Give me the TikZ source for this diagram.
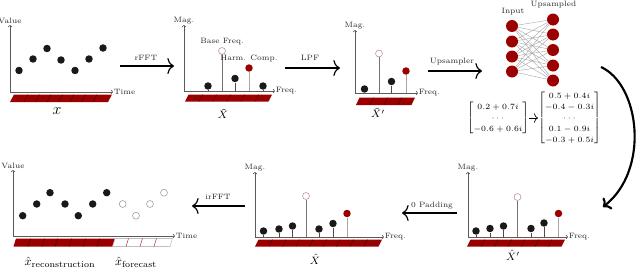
\documentclass[tikz,border=0pt]{standalone}
\usepackage{amsmath}
\usetikzlibrary{arrows.meta}
\definecolor{bred}{RGB}{155,0,0}
\definecolor{dotblk}{RGB}{25,25,25}
\definecolor{axgray}{RGB}{90,90,90}
\definecolor{hollowc}{RGB}{190,150,150}
\definecolor{hollowg}{RGB}{160,160,160}
\begin{document}
\begin{tikzpicture}[x=0.75pt,y=-0.75pt,
  axis/.style={draw=axgray, line width=0.5pt, -{To[length=1.6pt,width=3pt]}},
  lbl/.style={font=\fontsize{5.8}{6.5}\selectfont, inner sep=0.5pt, text=black!85},
  zlbl/.style={font=\fontsize{4.6}{5}\selectfont, inner sep=0, text=black!80},
  mlbl/.style={inner sep=0, font=\fontsize{8}{9}\selectfont},
  bdot/.style={circle, fill=dotblk, minimum size=5.6pt, inner sep=0},
  rdot/.style={circle, fill=bred, minimum size=5.6pt, inner sep=0},
  hdot/.style={circle, draw=hollowc, fill=white, line width=0.45pt, minimum size=5.2pt, inner sep=0},
  gdot/.style={circle, draw=hollowg, fill=white, line width=0.45pt, minimum size=5.2pt, inner sep=0},
  stemd/.style={draw=black!70, line width=0.55pt},
  stemm/.style={draw=black!55, line width=0.55pt},
  steml/.style={draw=black!35, line width=0.55pt},
  bigarrow/.style={line width=0.9pt, -{Computer Modern Rightarrow[length=5pt,width=12pt]}},
  nnode/.style={circle, fill=bred, minimum size=9pt, inner sep=0},
  link/.style={draw=black!40, line width=0.25pt},
  divl/.style={draw=black!60!bred, line width=0.3pt},
]
\useasboundingbox (0,0) rectangle (640,268);

% ---------- Panel 1: x ----------
\coordinate (o1) at (10,92);
\coordinate (t1) at (10,25);
\coordinate (x1) at (113,92);
\draw[axis] (o1) -- (t1);
\draw[axis] (o1) -- (x1);
\node[lbl, anchor=south] (v1) at (t1) {Value};
\node[lbl, anchor=west] (tm1) at (x1) {Time};
\fill[bred] (10,102) -- (14,94.5) -- (112,94.5) -- (108,102) -- cycle;
\foreach \d in {24,35.5,...,100} \draw[divl] (\d,102) -- (\d+4,94.5);
\foreach \i/\x/\y in {1/19/70.5,2/33/59,3/47/48.5,4/61/60,5/75/70.5,6/89/59,7/103/48}
  \node[bdot] (a\i) at (\x,\y) {};
\node[mlbl, font=\fontsize{13}{14}\selectfont] (xlab) at (57,111) {$x$};

% ---------- arrow rFFT ----------
\coordinate (r1s) at (120,66); \coordinate (r1e) at (174,66);
\draw[bigarrow] (r1s) -- (r1e);
\node[lbl] (rfft) at (146,58) {rFFT};

% ---------- Panel 2: X tilde ----------
\coordinate (o2) at (184,91);
\coordinate (t2) at (184,25);
\coordinate (x2) at (275,91);
\draw[axis] (o2) -- (t2);
\draw[axis] (o2) -- (x2);
\node[lbl, anchor=south] (mg2) at (t2) {Mag.};
\node[lbl, anchor=west] (fq2) at (x2) {Freq.};
\fill[bred] (185,101.5) -- (188.5,94.5) -- (272,94.5) -- (268.5,101.5) -- cycle;
\foreach \d in {199,213,227,241,255} \draw[divl] (\d,101.5) -- (\d+3.5,94.5);
\node[zlbl] (z2) at (194,98) {0};
\node[bdot] (b1) at (208,86) {};
\node[hdot] (b2) at (222,51) {};
\node[bdot] (b3) at (235,78.5) {};
\node[rdot] (b4) at (249,68) {};
\node[bdot] (b5) at (263,86) {};
\draw[stemd] (b1.south) -- (b1 |- o2);
\draw[stemm] (b2.south) -- (b2 |- o2);
\draw[stemd] (b3.south) -- (b3 |- o2);
\draw[steml] (b4.south) -- (b4 |- o2);
\draw[stemd] (b5.south) -- (b5 |- o2);
\node[lbl] (bf) at (222,42) {Base Freq.};
\node[lbl] (hc) at (249,59) {Harm. Comp.};
\node[mlbl] (xt) at (223,114) {$\tilde{X}$};

% ---------- arrow LPF ----------
\coordinate (r2s) at (285,68); \coordinate (r2e) at (340,68);
\draw[bigarrow] (r2s) -- (r2e);
\node[lbl] (lpf) at (310,58) {LPF};

% ---------- Panel 3: X tilde prime ----------
\coordinate (o3) at (355,93);
\coordinate (t3) at (355,30);
\coordinate (x3) at (418,93);
\draw[axis] (o3) -- (t3);
\draw[axis] (o3) -- (x3);
\node[lbl, anchor=south] (mg3) at (t3) {Mag.};
\node[lbl, anchor=west] (fq3) at (x3) {Freq.};
\fill[bred] (356,105) -- (359.5,97.5) -- (415,97.5) -- (411.5,105) -- cycle;
\foreach \d in {370,384,398} \draw[divl] (\d,105) -- (\d+3.5,97.5);
\node[bdot] (c1) at (364.5,89) {};
\node[hdot] (c2) at (379,53.5) {};
\node[bdot] (c3) at (391.5,81.5) {};
\node[rdot] (c4) at (406,71) {};
\draw[stemd] (c1.south) -- (c1 |- o3);
\draw[stemm] (c2.south) -- (c2 |- o3);
\draw[stemd] (c3.south) -- (c3 |- o3);
\draw[steml] (c4.south) -- (c4 |- o3);
\node[mlbl] (xtp) at (378,113) {$\tilde{X}'$};

% ---------- arrow Upsampler ----------
\coordinate (r3s) at (428,71); \coordinate (r3e) at (482,71);
\draw[bigarrow] (r3s) -- (r3e);
\node[lbl] (ups) at (452,62) {Upsampler};

% ---------- Network ----------
\foreach \i/\y in {1/26,2/41.5,3/56.5,4/71.5}
  \node[nnode] (in\i) at (512,\y) {};
\foreach \j/\y in {1/19.5,2/34.5,3/50,4/65.5,5/80.5}
  \node[nnode] (up\j) at (553,\y) {};
\foreach \i in {1,...,4}{
  \foreach \j in {1,...,5}{
    \draw[link] (in\i) -- (up\j);
  }
}
\node[lbl] (inl) at (513,12) {Input};
\node[lbl] (upl) at (553.5,5) {Upsampled};

% ---------- Matrices ----------
\node[inner sep=0, font=\fontsize{6.5}{8.3}\selectfont] (m1) at (498,118)
  {$\begin{bmatrix}0.2+0.7i\\ \cdots\\ -0.6+0.6i\end{bmatrix}$};
\node[inner sep=0, font=\fontsize{6.5}{8.3}\selectfont] (m2) at (569.5,118)
  {$\begin{bmatrix}0.5+0.4i\\ -0.4-0.3i\\ \cdots\\ 0.1-0.9i\\ -0.3+0.5i\end{bmatrix}$};
\draw[line width=0.5pt, -{Computer Modern Rightarrow[length=3pt,width=7pt]}] (m1.east) -- (m2.west);

% ---------- curved arrow ----------
\coordinate (cs) at (601,67);
\coordinate (ce) at (603,207);
\draw[line width=1.6pt, -{Computer Modern Rightarrow[length=5pt,width=11pt]}]
  (cs) .. controls (640,85) and (650,170) .. (ce);

% ---------- Panel 4: X hat prime ----------
\coordinate (o4) at (468,237);
\coordinate (t4) at (468,172);
\coordinate (x4) at (568,237);
\draw[axis] (o4) -- (t4);
\draw[axis] (o4) -- (x4);
\node[lbl, anchor=south] (mg4) at (t4) {Mag.};
\node[lbl, anchor=west] (fq4) at (x4) {Freq.};
\fill[bred] (467,246.5) -- (470.5,239.5) -- (565,239.5) -- (561.5,246.5) -- cycle;
\foreach \d in {481,494.5,508,521.5,535,548.5} \draw[divl] (\d,246.5) -- (\d+3.5,239.5);
\node[bdot] (e1) at (476,231) {};
\node[bdot] (e2) at (490,228.5) {};
\node[bdot] (e3) at (503.5,226) {};
\node[hdot] (e4) at (517.5,197) {};
\node[bdot] (e5) at (531,228.5) {};
\node[bdot] (e6) at (544,223) {};
\node[rdot] (e7) at (558.5,213.5) {};
\foreach \k in {1,2,3,5,6} \draw[stemd] (e\k.south) -- (e\k |- o4);
\draw[stemm] (e4.south) -- (e4 |- o4);
\draw[steml] (e7.south) -- (e7 |- o4);
\node[mlbl] (xhp) at (513,255) {$\hat{X}'$};

% ---------- arrow 0 Padding ----------
\coordinate (r4s) at (457,213); \coordinate (r4e) at (402,213);
\draw[bigarrow] (r4s) -- (r4e);
\node[lbl] (pad) at (432,206) {0 Padding};

% ---------- Panel 5: X hat ----------
\coordinate (o5) at (255,237);
\coordinate (t5) at (255,172);
\coordinate (x5) at (384,237);
\draw[axis] (o5) -- (t5);
\draw[axis] (o5) -- (x5);
\node[lbl, anchor=south] (mg5) at (t5) {Mag.};
\node[lbl, anchor=west] (fq5) at (x5) {Freq.};
\fill[bred] (255,246.5) -- (258.5,239.5) -- (382,239.5) -- (378.5,246.5) -- cycle;
\foreach \d in {269,282.5,296,309.5,323,336.5,350,364} \draw[divl] (\d,246.5) -- (\d+3.5,239.5);
\node[zlbl] (z5a) at (359,243) {0};
\node[zlbl] (z5b) at (373,243) {0};
\node[bdot] (f1) at (263.5,231) {};
\node[bdot] (f2) at (279,229) {};
\node[bdot] (f3) at (292.5,226) {};
\node[hdot] (f4) at (306,196) {};
\node[bdot] (f5) at (319,229) {};
\node[bdot] (f6) at (333,223.5) {};
\node[rdot] (f7) at (347,213.5) {};
\foreach \k in {1,2,3,5,6} \draw[stemd] (f\k.south) -- (f\k |- o5);
\draw[stemm] (f4.south) -- (f4 |- o5);
\draw[steml] (f7.south) -- (f7 |- o5);
\node[mlbl] (xh) at (315,259) {$\hat{X}$};

% ---------- arrow irFFT ----------
\coordinate (r5s) at (245,206); \coordinate (r5e) at (192,206);
\draw[bigarrow] (r5s) -- (r5e);
\node[lbl] (irfft) at (218,197) {irFFT};

% ---------- Panel 6: reconstruction + forecast ----------
\coordinate (o6) at (13,236);
\coordinate (t6) at (13,170);
\coordinate (x6) at (175,236);
\draw[axis] (o6) -- (t6);
\draw[axis] (o6) -- (x6);
\node[lbl, anchor=south] (v6) at (t6) {Value};
\node[lbl, anchor=west] (tm6) at (x6) {Time};
\fill[bred] (13.5,246.5) -- (16,238.5) -- (115,238.5) -- (112.5,246.5) -- cycle;
\foreach \d in {28,42,55,69,83,97} \draw[divl] (\d,246.5) -- (\d+2.5,238.5);
\draw[draw=black!25, line width=0.4pt] (112.5,246.5) -- (115,238.5) -- (172.5,238.5) -- (170,246.5) -- cycle;
\foreach \d in {126,140,154} \draw[draw=bred!80, line width=0.4pt] (\d,246.5) -- (\d+2.5,238.5);
\foreach \i/\x/\y in {1/22.7/215.7,2/36.7/204,3/50/192.7,4/65/204,5/78.3/215.7,6/92.7/204,7/106.7/192.7}
  \node[bdot] (g\i) at (\x,\y) {};
\foreach \i/\x/\y in {8/122.7/204,9/136/215.7,10/150/204,11/164/192.7}
  \node[gdot] (g\i) at (\x,\y) {};
\node[mlbl, font=\fontsize{9.5}{10}\selectfont] (xrec) at (60,262.5) {$\hat{x}_{\text{reconstruction}}$};
\node[mlbl, font=\fontsize{9.5}{10}\selectfont] (xfc) at (136,262.5) {$\hat{x}_{\text{forecast}}$};
\end{tikzpicture}
\end{document}
